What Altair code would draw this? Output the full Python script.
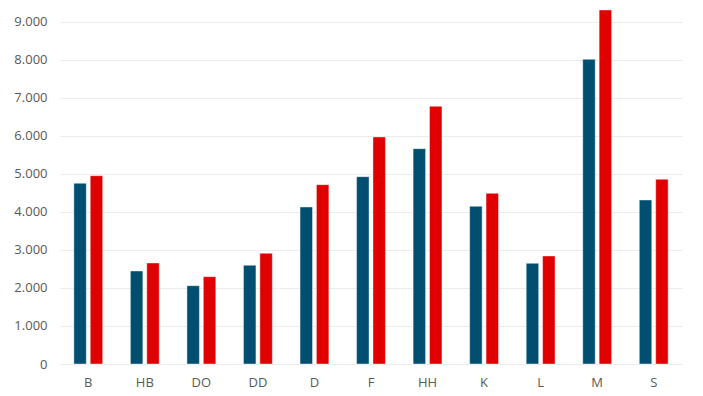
import altair as alt
import pandas as pd

categories = ["B", "HB", "DO", "DD", "D", "F", "HH", "K", "L", "M", "S"]
series_a = [4755, 2447, 2061, 2597, 4132, 4930, 5667, 4149, 2649, 8018, 4316]
series_b = [4955, 2658, 2298, 2912, 4719, 5974, 6781, 4491, 2842, 9316, 4860]
series_names = ["A", "B"]
y_ticks = [0, 1000, 2000, 3000, 4000, 5000, 6000, 7000, 8000, 9000]

rows = []
for c, a, b in zip(categories, series_a, series_b):
    rows.append({"cat": c, "series": series_names[0], "value": a})
    rows.append({"cat": c, "series": series_names[1], "value": b})
df = pd.DataFrame(rows)

chart = alt.Chart(df).mark_bar(stroke="#ffffff", strokeWidth=0.6, strokeOpacity=0.7).encode(
    x=alt.X("cat:N", sort=categories, title=None,
            scale=alt.Scale(paddingInner=0.49, paddingOuter=0.245),
            axis=alt.Axis(labelAngle=0, domain=False, ticks=False, labelPadding=12,
                          labelFont="Open Sans", labelFontSize=13, labelColor="#595959")),
    xOffset=alt.XOffset("series:N", scale=alt.Scale(paddingInner=0.24, paddingOuter=0)),
    y=alt.Y("value:Q", title=None,
            scale=alt.Scale(domain=[0, 9368], nice=False, zero=True),
            axis=alt.Axis(values=y_ticks, format=",.0f", domain=False, ticks=False,
                          labelPadding=13, labelFont="Open Sans", labelFontSize=13,
                          labelColor="#595959", gridColor="#ebebeb", gridWidth=1.2)),
    color=alt.Color("series:N", legend=None,
                    scale=alt.Scale(domain=series_names, range=["#004f71", "#e00000"])),
).properties(
    width=622, height=356,
    autosize=alt.AutoSizeParams(type="none"),
    padding={"left": 52, "top": 0, "right": 13, "bottom": 30},
).configure(
    locale={"number": {"decimal": ",", "thousands": ".", "grouping": [3], "currency": ["", " €"]}}
).configure_view(stroke=None)

chart.save("out.html", embed_options={"renderer": "svg", "actions": False})
